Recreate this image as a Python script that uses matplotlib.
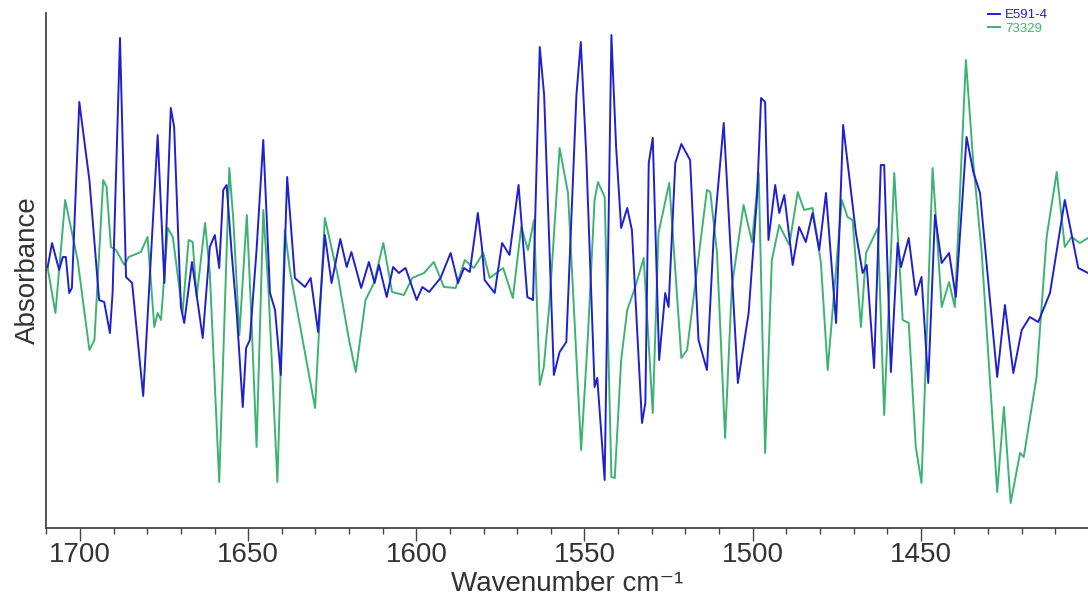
import matplotlib
matplotlib.use("Agg")
import matplotlib.pyplot as plt
from matplotlib.ticker import MultipleLocator

plt.rcParams['font.family'] = ['Liberation Sans', 'DejaVu Sans']

# E591-4 (blue)
wn_e591 = [1709.6, 1708.3, 1706.2, 1705.1, 1704.2, 1703.2, 1702.4, 1700.2, 1697.2, 1694.3,
           1692.8, 1691.1, 1690.3, 1688.1, 1686.3, 1684.5, 1681.2, 1676.9, 1674.9, 1673.0,
           1672.0, 1670.0, 1669.0, 1666.7, 1663.5, 1661.4, 1659.9, 1658.6, 1657.4, 1656.4,
           1654.9, 1653.4, 1651.6, 1650.6, 1649.5, 1647.5, 1645.5, 1643.5, 1642.0, 1640.3,
           1638.4, 1636.1, 1633.1, 1631.4, 1629.2, 1627.2, 1625.2, 1622.6, 1620.7, 1619.3,
           1616.4, 1614.1, 1612.4, 1611.1, 1608.8, 1606.9, 1605.2, 1603.2, 1599.9, 1598.2,
           1596.2, 1592.8, 1589.8, 1587.6, 1585.8, 1584.1, 1581.7, 1580.5, 1579.7, 1576.7,
           1574.5, 1572.3, 1569.6, 1567.0, 1565.3, 1563.3, 1562.0, 1559.1, 1557.4, 1555.4,
           1552.4, 1551.1, 1549.5, 1547.0, 1546.2, 1544.0, 1542.0, 1540.6, 1539.1, 1537.3,
           1535.9, 1532.9, 1531.9, 1530.9, 1529.7, 1527.8, 1526.0, 1525.0, 1523.0, 1521.2,
           1518.6, 1516.1, 1513.6, 1511.6, 1508.6, 1504.4, 1501.2, 1498.7, 1497.5, 1496.3,
           1495.3, 1493.3, 1492.1, 1490.6, 1488.1, 1486.2, 1484.2, 1482.2, 1480.2, 1478.2,
           1475.2, 1473.1, 1469.3, 1467.3, 1466.1, 1463.9, 1461.9, 1460.9, 1458.9, 1456.9,
           1455.9, 1453.6, 1451.5, 1449.8, 1447.8, 1445.8, 1443.8, 1441.6, 1439.6, 1436.4,
           1434.4, 1432.4, 1427.3, 1425.0, 1422.5, 1420.0, 1417.6, 1415.1, 1411.6, 1407.2,
           1403.2, 1400.3]
ab_e591 = [0.003, 0.027, 0.000, 0.013, 0.013, -0.023, -0.018, 0.168, 0.090, -0.030,
           -0.032, -0.063, -0.023, 0.232, -0.007, -0.013, -0.126, 0.135, -0.013, 0.162,
           0.143, -0.037, -0.053, 0.008, -0.068, 0.023, 0.035, 0.002, 0.080, 0.085,
           0.017, -0.043, -0.137, -0.078, -0.070, 0.020, 0.130, -0.023, -0.040, -0.105,
           0.093, -0.008, -0.017, -0.008, -0.062, 0.035, -0.013, 0.031, 0.003, 0.018,
           -0.018, 0.008, -0.013, 0.005, -0.027, 0.003, -0.003, 0.002, -0.030, -0.017,
           -0.022, -0.008, 0.017, -0.013, 0.002, -0.002, 0.057, 0.023, -0.010, -0.023,
           0.027, 0.015, 0.085, -0.027, -0.030, 0.223, 0.175, -0.105, -0.082, -0.072,
           0.175, 0.228, 0.117, -0.117, -0.108, -0.210, 0.235, 0.123, 0.042, 0.062,
           0.040, -0.153, -0.133, 0.107, 0.132, -0.090, -0.023, -0.037, 0.107, 0.126,
           0.110, -0.070, -0.100, 0.033, 0.147, -0.113, -0.043, 0.073, 0.172, 0.168,
           0.030, 0.085, 0.057, 0.075, 0.005, 0.043, 0.028, 0.057, 0.020, 0.077,
           -0.053, 0.145, 0.037, -0.003, 0.005, -0.098, 0.105, 0.105, -0.102, 0.027,
           0.003, 0.032, -0.025, -0.007, -0.113, 0.055, 0.007, 0.017, -0.027, 0.133,
           0.098, 0.077, -0.107, -0.035, -0.103, -0.060, -0.047, -0.052, -0.023, 0.070,
           0.002, -0.003]

# 73329 (green)
wn_73329 = [1709.6, 1707.3, 1704.4, 1700.7, 1697.2, 1695.7, 1693.1, 1692.1, 1690.8, 1689.3,
            1686.8, 1685.5, 1681.9, 1679.9, 1677.9, 1676.9, 1675.9, 1673.9, 1672.4, 1669.5,
            1667.7, 1666.5, 1665.3, 1662.8, 1661.4, 1658.6, 1655.6, 1654.4, 1652.6, 1650.4,
            1649.0, 1647.5, 1645.5, 1644.0, 1641.3, 1639.1, 1637.6, 1630.1, 1627.2, 1623.2,
            1622.5, 1620.0, 1618.0, 1615.1, 1612.6, 1609.8, 1607.2, 1603.7, 1601.2, 1597.7,
            1594.8, 1591.8, 1588.3, 1585.6, 1582.9, 1580.1, 1578.2, 1574.2, 1571.3, 1568.8,
            1566.8, 1565.0, 1563.3, 1562.1, 1560.4, 1557.4, 1554.9, 1551.0, 1549.0, 1547.0,
            1546.0, 1544.0, 1542.0, 1541.0, 1539.1, 1537.3, 1534.9, 1532.4, 1529.7, 1528.0,
            1524.8, 1521.2, 1519.5, 1513.6, 1512.6, 1510.6, 1508.2, 1506.2, 1502.7, 1500.2,
            1498.2, 1496.3, 1494.3, 1492.1, 1489.1, 1486.6, 1484.7, 1482.2, 1479.7, 1477.7,
            1473.5, 1471.8, 1470.3, 1467.8, 1466.3, 1462.8, 1460.9, 1457.9, 1455.4, 1453.6,
            1451.5, 1449.8, 1446.5, 1443.8, 1441.6, 1439.9, 1436.6, 1434.4, 1431.9, 1427.3,
            1425.3, 1423.3, 1420.5, 1419.4, 1415.6, 1412.6, 1409.6, 1407.2, 1405.2, 1402.7,
            1400.3]
ab_73329 = [0.002, -0.043, 0.070, 0.010, -0.080, -0.070, 0.090, 0.083, 0.023, 0.020,
            0.005, 0.013, 0.018, 0.033, -0.057, -0.043, -0.050, 0.042, 0.033, -0.043,
            0.030, 0.028, -0.027, 0.047, -0.003, -0.212, 0.102, 0.050, -0.065, 0.055,
            -0.050, -0.177, 0.060, -0.017, -0.212, 0.040, 0.000, -0.138, 0.052, -0.008,
            -0.022, -0.070, -0.102, -0.030, -0.013, 0.027, -0.022, -0.025, -0.008, -0.003,
            0.008, -0.017, -0.018, 0.010, 0.002, 0.017, -0.008, 0.002, -0.028, 0.043,
            0.020, 0.050, -0.115, -0.097, -0.033, 0.122, 0.077, -0.180, -0.067, 0.070,
            0.088, 0.073, -0.207, -0.208, -0.090, -0.040, -0.017, 0.012, -0.143, 0.037,
            0.087, -0.088, -0.080, 0.080, 0.078, 0.017, -0.168, -0.017, 0.065, 0.028,
            0.097, -0.183, 0.010, 0.045, 0.025, 0.078, 0.060, 0.062, 0.007, -0.100,
            0.070, 0.053, 0.050, -0.057, 0.017, 0.042, -0.145, 0.097, -0.050, -0.053,
            -0.177, -0.213, 0.102, -0.037, -0.012, -0.037, 0.210, 0.107, 0.017, -0.222,
            -0.137, -0.233, -0.183, -0.187, -0.107, 0.033, 0.098, 0.023, 0.033, 0.027,
            0.032]

series_labels = ["E591-4", "73329"]
colors = ["#2020d0", "#3cb371"]

W, H = 1088, 608
fig = plt.figure(figsize=(W / 100, H / 100), dpi=100)
ax = fig.add_axes([46 / W, (H - 528) / H, (W - 46) / W, (528 - 13) / H])

l1, = ax.plot(wn_e591, ab_e591, color=colors[0], lw=1.4, label=series_labels[0],
              zorder=3, solid_joinstyle="round")
l2, = ax.plot(wn_73329, ab_73329, color=colors[1], lw=1.4, label=series_labels[1],
              zorder=2, solid_joinstyle="round")

ax.set_xlim(1710.1, 1400.3)
ax.set_ylim(-0.258, 0.257)

for s in ["top", "right"]:
    ax.spines[s].set_visible(False)
for s in ["left", "bottom"]:
    ax.spines[s].set_color("#444444")
    ax.spines[s].set_linewidth(1.3)

ax.xaxis.set_major_locator(MultipleLocator(50))
ax.xaxis.set_minor_locator(MultipleLocator(10))
ax.tick_params(axis="x", which="major", direction="out", length=9, width=1.0,
               color="#444444", labelsize=20, labelcolor="#333333", pad=1)
ax.tick_params(axis="x", which="minor", direction="out", length=4, width=1.0, color="#444444")
ax.set_yticks([])

ax.set_xlabel("Wavenumber cm\u207b\u00b9", fontsize=20, color="#333333", labelpad=2)
ax.set_ylabel("Absorbance", fontsize=20, color="#333333", labelpad=4)

leg = ax.legend(handles=[l1, l2], loc="upper left",
                bbox_to_anchor=(988 / W, 1 - 9 / H), bbox_transform=fig.transFigure,
                frameon=False, fontsize=9.5, handlelength=0.9, handletextpad=0.4,
                labelspacing=0.1, borderpad=0, borderaxespad=0, labelcolor="linecolor")

fig.savefig("out.png", dpi=100)
